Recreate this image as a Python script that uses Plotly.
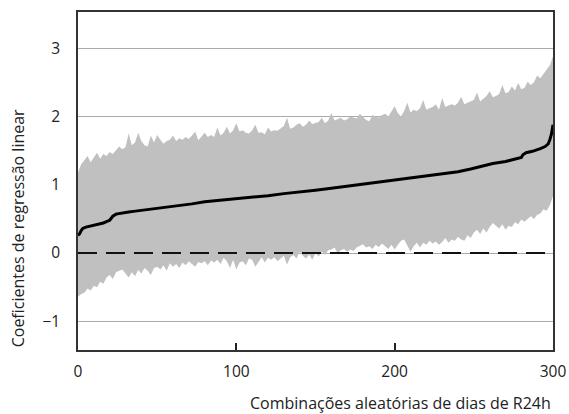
import plotly.graph_objects as go

# Band (x every 2)
band_x = list(range(0, 301, 2))
upper = [
    1.18, 1.30, 1.36, 1.42, 1.33, 1.40, 1.47, 1.38, 1.45, 1.42,
    1.48, 1.45, 1.50, 1.56, 1.52, 1.55, 1.75, 1.58, 1.62, 1.76,
    1.64, 1.58, 1.56, 1.72, 1.62, 1.73, 1.66, 1.60, 1.64, 1.66,
    1.72, 1.64, 1.68, 1.66, 1.70, 1.67, 1.72, 1.78, 1.65, 1.70,
    1.76, 1.70, 1.73, 1.70, 1.84, 1.72, 1.76, 1.85, 1.75, 1.80,
    1.90, 1.78, 1.80, 1.76, 1.75, 1.80, 1.88, 1.76, 1.77, 1.74,
    1.84, 1.78, 1.80, 1.79, 1.82, 1.86, 1.98, 1.82, 1.84, 1.88,
    1.90, 1.85, 1.88, 1.94, 1.89, 1.90, 1.92, 1.98, 1.90, 1.94,
    2.05, 1.94, 1.96, 1.98, 1.94, 1.96, 2.00, 1.98, 1.97, 2.04,
    2.00, 1.95, 1.93, 2.02, 2.00, 1.98, 2.02, 2.04, 2.00, 2.07,
    2.15, 2.05, 2.00, 2.08, 2.20, 2.06, 2.10, 2.08, 2.12, 2.24,
    2.10, 2.12, 2.14, 2.18, 2.10, 2.27, 2.14, 2.16, 2.18, 2.16,
    2.20, 2.29, 2.18, 2.20, 2.22, 2.24, 2.35, 2.22, 2.26, 2.30,
    2.37, 2.28, 2.30, 2.33, 2.46, 2.34, 2.36, 2.44, 2.38, 2.49,
    2.40, 2.42, 2.51, 2.46, 2.50, 2.60, 2.56, 2.62, 2.68, 2.75,
    2.88,
]
lower = [
    -0.64, -0.60, -0.58, -0.52, -0.55, -0.48, -0.50, -0.42, -0.45, -0.36,
    -0.32, -0.38, -0.28, -0.26, -0.24, -0.30, -0.36, -0.28, -0.34, -0.25,
    -0.30, -0.22, -0.26, -0.32, -0.22, -0.20, -0.24, -0.18, -0.26, -0.15,
    -0.20, -0.16, -0.22, -0.14, -0.18, -0.12, -0.16, -0.20, -0.13, -0.15,
    -0.12, -0.18, -0.11, -0.14, -0.10, -0.16, -0.07, -0.12, -0.22, -0.10,
    -0.24, -0.14, -0.12, -0.18, -0.08, -0.10, -0.20, -0.12, -0.06, -0.14,
    -0.07, -0.10, -0.06, -0.12, -0.08, -0.04, -0.17, -0.06, -0.03, -0.08,
    0.02, -0.04, -0.08, -0.02, -0.10, 0.00, -0.05, 0.02, -0.03, 0.04,
    0.05, 0.08, 0.00, 0.04, 0.06, 0.02, 0.05, 0.03, 0.08, 0.10,
    0.13, 0.08, 0.10, 0.06, 0.12, 0.09, 0.14, 0.10, 0.06, 0.12,
    0.05, 0.12, 0.18, 0.20, 0.12, 0.02, 0.10, 0.15, 0.08, 0.15,
    0.12, 0.18, 0.14, 0.17, 0.12, 0.16, 0.22, 0.15, 0.20, 0.18,
    0.24, 0.20, 0.18, 0.26, 0.22, 0.30, 0.34, 0.28, 0.36, 0.30,
    0.38, 0.44, 0.40, 0.36, 0.42, 0.34, 0.40, 0.38, 0.45, 0.42,
    0.49, 0.46, 0.50, 0.54, 0.50, 0.56, 0.58, 0.64, 0.62, 0.70,
    0.83,
]

# Sorted coefficient line
line_x = [0, 1, 2, 3, 5, 7, 10, 12, 14, 16, 18, 20, 21, 22, 24, 26, 28, 32, 35,
          42, 50, 58, 65, 72, 80, 90, 100, 110, 120, 130, 140, 150, 160, 170,
          180, 190, 200, 210, 220, 230, 240, 248, 255, 262, 270, 276, 280, 281,
          283, 287, 290, 292, 295, 297, 298, 299, 300]
line_y = [0.26, 0.28, 0.33, 0.36, 0.38, 0.39, 0.41, 0.42, 0.43, 0.44, 0.46, 0.48,
          0.51, 0.54, 0.57, 0.58, 0.59, 0.60, 0.61, 0.63, 0.65, 0.68, 0.70,
          0.72, 0.75, 0.77, 0.79, 0.81, 0.84, 0.87, 0.89, 0.92, 0.95, 0.98,
          1.01, 1.04, 1.07, 1.10, 1.13, 1.16, 1.19, 1.23, 1.27, 1.31, 1.34,
          1.37, 1.40, 1.44, 1.47, 1.49, 1.51, 1.53, 1.56, 1.60, 1.66, 1.74, 1.88]

x_ticks = [0, 100, 200, 300]
y_ticks = [-1, 0, 1, 2, 3]
x_title = "Combinações aleatórias de dias de R24h"
y_title = "Coeficientes de regressão linear"

FONT = "Open Sans"

fig = go.Figure()
fig.add_trace(go.Scatter(x=band_x, y=lower, mode="lines", line=dict(width=0),
                         showlegend=False, hoverinfo="skip"))
fig.add_trace(go.Scatter(x=band_x, y=upper, mode="lines", line=dict(width=0),
                         fill="tonexty", fillcolor="#c0c0c0",
                         showlegend=False, hoverinfo="skip"))
fig.add_trace(go.Scatter(x=[0, 300], y=[0, 0], mode="lines",
                         line=dict(color="#111111", width=2, dash="19px,9px"),
                         showlegend=False))
fig.add_trace(go.Scatter(x=line_x, y=line_y, mode="lines",
                         line=dict(color="#000000", width=3),
                         showlegend=False))

fig.update_layout(
    width=569, height=414,
    margin=dict(l=78, r=16, t=12, b=64),
    paper_bgcolor="white", plot_bgcolor="white",
    font=dict(family=FONT, size=15.5, color="#222222"),
    xaxis=dict(range=[0, 300], tickvals=x_ticks, ticks="inside", ticklen=7,
               tickcolor="#222222", tickwidth=1.5, showgrid=False, zeroline=False,
               showline=True, linecolor="#333333", linewidth=1.5, mirror=True,
               ticklabelstandoff=7, automargin=False),
    yaxis=dict(range=[-1.42, 3.53], tickvals=y_ticks, ticks="", showgrid=True,
               gridcolor="#aaaaaa", gridwidth=1, zeroline=False,
               showline=True, linecolor="#333333", linewidth=1.5, mirror=True,
               ticklabelstandoff=13, automargin=False),
    annotations=[
        dict(text=y_title, xref="paper", yref="paper", x=0, y=0.36,
             xshift=-60, xanchor="center", yanchor="middle", textangle=-90,
             showarrow=False, font=dict(family=FONT, size=16, color="#222222")),
        dict(text=x_title, xref="paper", yref="paper", x=1, y=0,
             yshift=-53, xanchor="right", yanchor="middle",
             showarrow=False, font=dict(family=FONT, size=16, color="#222222")),
    ],
)

fig.write_html("out.html")
